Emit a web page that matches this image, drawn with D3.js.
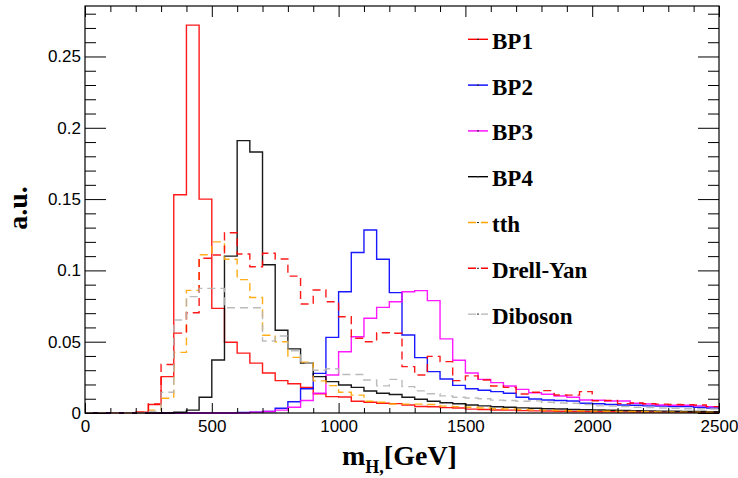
<!DOCTYPE html>
<html>
<head>
<meta charset="utf-8">
<script src="https://cdn.jsdelivr.net/npm/d3@7"></script>
<style>
  html, body { margin: 0; padding: 0; background: #fff; }
  svg { display: block; }
</style>
</head>
<body>
<svg id="chart" width="738" height="478"></svg>
<script>
// ---------------- data ----------------
const binWidth = 50;          // GeV
const nBins = 50;             // 0 .. 2500 GeV

const bp1 = [0,0,0,0,0.0005,0.006,0.0255,0.153,0.272,0.150,
  0.0734,0.0496,0.042,0.035,0.028,0.0227,0.0205,0.018,0.0135,0.0115,
  0.0112,0.0082,0.0075,0.0068,0.0066,0.0056,0.0046,0.0044,0.0038,0.0035,
  0.0027,0.0025,0.0021,0.0020,0.0017,0.0015,0.0014,0.0012,0.0011,0.0010,
  0.0009,0.0009,0.0008,0.0007,0.0007,0.0006,0.0006,0.0005,0.0005,0.0004];

const bp2 = [0,0,0,0,0,0,0,0,0,0,
  0,0,0.0003,0.0005,0.001,0.0033,0.0079,0.017,0.0278,0.053,
  0.085,0.1125,0.1283,0.1078,0.0844,0.0547,0.0388,0.029,0.0238,0.0194,
  0.017,0.016,0.015,0.0138,0.011,0.0098,0.0091,0.0088,0.0084,0.0068,
  0.0065,0.006,0.0056,0.0054,0.005,0.0049,0.0045,0.0045,0.004,0.0035];

const bp3 = [0,0,0,0,0,0,0,0,0,0,
  0,0,0,0.0005,0.001,0.002,0.004,0.0088,0.0138,0.0266,
  0.043,0.0535,0.0664,0.0741,0.078,0.085,0.0858,0.0788,0.052,0.037,
  0.028,0.0236,0.0213,0.0189,0.0166,0.0142,0.0131,0.0119,0.011,0.0091,
  0.0089,0.0084,0.0084,0.0068,0.0063,0.0056,0.0054,0.0054,0.005,0.0045];

const bp4 = [0,0,0,0,0,0,0,0.0005,0.002,0.011,
  0.0372,0.110,0.191,0.183,0.104,0.058,0.045,0.035,0.0255,0.022,
  0.0196,0.018,0.0154,0.0138,0.013,0.011,0.0096,0.0082,0.0072,0.0065,
  0.0056,0.005,0.0044,0.004,0.0036,0.0033,0.003,0.0028,0.0025,0.0023,
  0.0021,0.0019,0.0018,0.0016,0.0015,0.0013,0.0012,0.0011,0.001,0.0009];

const tth = [0,0,0,0,0,0.002,0.0103,0.0425,0.086,0.111,
  0.120,0.1078,0.0935,0.081,0.0545,0.050,0.039,0.0357,0.0225,0.0192,
  0.0145,0.0125,0.0082,0.0075,0.0063,0.0062,0.0062,0.006,0.0048,0.0045,
  0.004,0.0035,0.003,0.0028,0.0025,0.0022,0.002,0.0018,0.0016,0.0015,
  0.0013,0.0012,0.0011,0.001,0.0009,0.0008,0.0007,0.0006,0.0006,0.0005];

const drellYan = [0,0,0,0,0.0005,0.0063,0.034,0.056,0.0703,0.1085,
  0.1108,0.1264,0.1115,0.1026,0.112,0.108,0.096,0.0764,0.0863,0.078,
  0.0675,0.0524,0.05,0.0563,0.0559,0.0325,0.0266,0.0397,0.036,0.0227,
  0.026,0.0231,0.0189,0.018,0.0133,0.0145,0.0157,0.0126,0.0125,0.015,
  0.0086,0.0088,0.0066,0.007,0.0065,0.0062,0.006,0.0058,0.0056,0.0045];

const diboson = [0,0,0,0,0,0.001,0.0145,0.0652,0.0816,0.0874,
  0.0874,0.0738,0.0738,0.0738,0.0505,0.054,0.0436,0.035,0.030,0.031,
  0.027,0.027,0.0231,0.019,0.0236,0.0185,0.0155,0.0135,0.012,0.011,
  0.0105,0.010,0.009,0.0088,0.0082,0.0085,0.0075,0.007,0.0068,0.006,
  0.005,0.0048,0.0045,0.004,0.0038,0.0035,0.0033,0.003,0.003,0.0028];

const seriesNames = ["BP1","BP2","BP3","BP4","tth","Drell-Yan","Diboson"];
const seriesValues = [bp1, bp2, bp3, bp4, tth, drellYan, diboson];

const xTickValues = [0,500,1000,1500,2000,2500];
const xTickLabels = ["0","500","1000","1500","2000","2500"];
const yTickValues = [0,0.05,0.1,0.15,0.2,0.25];
const yTickLabels = ["0","0.05","0.1","0.15","0.2","0.25"];

// ---------------- styles ----------------
const styles = {
  "BP1":       {color: "#ff0000", dash: null},
  "BP2":       {color: "#0000ff", dash: null},
  "BP3":       {color: "#ff00ff", dash: null},
  "BP4":       {color: "#000000", dash: null},
  "tth":       {color: "#ffa500", dash: "8,5"},
  "Drell-Yan": {color: "#ff0000", dash: "8,5"},
  "Diboson":   {color: "#b4b4b4", dash: "8,5"}
};

// ---------------- layout ----------------
const plotL = 85, plotR = 719, plotT = 6, plotB = 413;
const svg = d3.select("#chart");

const x = d3.scaleLinear().domain([0, 2500]).range([plotL, plotR]);
const y = d3.scaleLinear().domain([0, 0.2854]).range([plotB, plotT]);

const sansFont = "'Liberation Sans', Arial, Helvetica, sans-serif";
const serifFont = "'Liberation Serif', 'Times New Roman', serif";

// ---------------- histograms ----------------
const gHist = svg.append("g");
const line = d3.line()
  .x(d => x(d[0]))
  .y(d => y(d[1]))
  .curve(d3.curveStepAfter);

seriesNames.forEach((name, k) => {
  const vals = seriesValues[k];
  const pts = vals.map((v, i) => [i * binWidth, v]);
  pts.push([nBins * binWidth, vals[vals.length - 1]]);
  const st = styles[name];
  gHist.append("path")
    .attr("d", line(pts))
    .attr("fill", "none")
    .attr("stroke", st.color)
    .attr("stroke-width", 1.4)
    .attr("stroke-dasharray", st.dash)
    .attr("opacity", 0.9);
});

// ---------------- axes ----------------
const xMinor = d3.range(0, 2501, 100).filter(v => v % 500 !== 0);
const yMinor = d3.range(0, 29).map(i => i / 100).filter(v => Math.round(v * 100) % 5 !== 0);

function styleAxis(g) {
  g.select(".domain").remove();
  g.selectAll("line").attr("stroke", "#000").attr("stroke-width", 1);
  g.selectAll("text").attr("font-family", sansFont).attr("font-size", 17).attr("fill", "#000");
}

// bottom
svg.append("g").attr("transform", `translate(0,${plotB})`)
  .call(d3.axisBottom(x).tickValues(xTickValues).tickSize(-10).tickPadding(7)
    .tickFormat((d, i) => xTickLabels[i]))
  .call(styleAxis);
svg.append("g").attr("transform", `translate(0,${plotB})`)
  .call(d3.axisBottom(x).tickValues(xMinor).tickSize(-5).tickFormat(""))
  .call(styleAxis);
// top
svg.append("g").attr("transform", `translate(0,${plotT})`)
  .call(d3.axisTop(x).tickValues(xTickValues).tickSize(-11).tickFormat(""))
  .call(styleAxis);
svg.append("g").attr("transform", `translate(0,${plotT})`)
  .call(d3.axisTop(x).tickValues(xMinor).tickSize(-6).tickFormat(""))
  .call(styleAxis);
// left
svg.append("g").attr("transform", `translate(${plotL},0)`)
  .call(d3.axisLeft(y).tickValues(yTickValues).tickSize(-21).tickPadding(4)
    .tickFormat((d, i) => yTickLabels[i]))
  .call(styleAxis);
svg.append("g").attr("transform", `translate(${plotL},0)`)
  .call(d3.axisLeft(y).tickValues(yMinor).tickSize(-11).tickFormat(""))
  .call(styleAxis);
// right
svg.append("g").attr("transform", `translate(${plotR},0)`)
  .call(d3.axisRight(y).tickValues(yTickValues).tickSize(-21).tickFormat(""))
  .call(styleAxis);
svg.append("g").attr("transform", `translate(${plotR},0)`)
  .call(d3.axisRight(y).tickValues(yMinor).tickSize(-11).tickFormat(""))
  .call(styleAxis);

// frame
svg.append("rect")
  .attr("x", plotL).attr("y", plotT)
  .attr("width", plotR - plotL).attr("height", plotB - plotT)
  .attr("fill", "none").attr("stroke", "#000").attr("stroke-width", 1.2);

// ---------------- titles ----------------
const xt = svg.append("text")
  .attr("x", 342).attr("y", 465)
  .attr("font-family", serifFont).attr("font-weight", "bold")
  .attr("font-size", 28).attr("fill", "#000");
xt.append("tspan").text("m");
xt.append("tspan").attr("font-size", 18).attr("dy", 8).text("H,");
xt.append("tspan").attr("dy", -8).text("[GeV]");

svg.append("text")
  .attr("transform", "translate(27,208) rotate(-90)")
  .attr("text-anchor", "middle")
  .attr("font-family", serifFont).attr("font-weight", "bold")
  .attr("font-size", 28).attr("fill", "#000")
  .text("a.u.");

// ---------------- legend ----------------
const legX0 = 468, legX1 = 488, legTextX = 492, legY0 = 39.3, legDy = 45.8;
const gLeg = svg.append("g");
seriesNames.forEach((name, k) => {
  const st = styles[name];
  const yy = legY0 + k * legDy;
  gLeg.append("line")
    .attr("x1", legX0).attr("x2", legX1).attr("y1", yy).attr("y2", yy)
    .attr("stroke", st.color).attr("stroke-width", 1.4)
    .attr("stroke-dasharray", st.dash);
  gLeg.append("line")
    .attr("x1", 477).attr("x2", 479).attr("y1", yy).attr("y2", yy)
    .attr("stroke", "#222").attr("stroke-width", 1);
  gLeg.append("text")
    .attr("x", legTextX).attr("y", yy + 9.5)
    .attr("font-family", serifFont).attr("font-weight", "bold")
    .attr("font-size", 23).attr("fill", "#000")
    .text(name);
});
</script>
</body>
</html>
